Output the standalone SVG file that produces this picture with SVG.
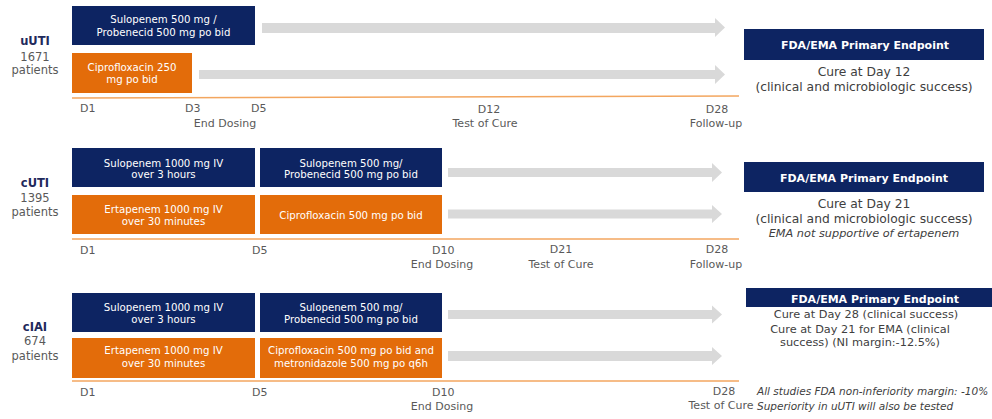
<svg xmlns="http://www.w3.org/2000/svg" width="992" height="419" viewBox="0 0 992 419">
<style>
text{font-family:"DejaVu Sans","Liberation Sans",sans-serif}
.navy{fill:#0d2462}
.orng{fill:#e36c0a}
.bt{fill:#ffffff;font-size:10.2px;text-anchor:middle}
.arr{fill:#d9d9d9}
.tl{stroke:#f3a65f;stroke-width:1.6;fill:none}
.lab{fill:#595959;font-size:11px}
.mid{text-anchor:middle}
.grp{fill:#1f2a5c;font-size:11.5px;font-weight:bold;text-anchor:middle}
.pat{fill:#595959;font-size:11.5px;text-anchor:middle}
.hdr{fill:#ffffff;font-size:11px;font-weight:bold;text-anchor:middle}
.rt{fill:#404040;font-size:12.3px;text-anchor:middle}
.rt2{fill:#404040;font-size:11.3px;text-anchor:middle}
.it{fill:#404040;font-size:11.3px;font-style:italic;text-anchor:middle}
.fn{fill:#404040;font-size:10.5px;font-style:italic}
</style>
<rect width="992" height="419" fill="#ffffff"/>

<g id="connectors">
  <polygon class="arr" points="262,23 715,23 715,18 725,27.5 715,37 715,33 262,33"/>
  <polygon class="arr" points="199,70 715,70 715,65 725,74.5 715,84 715,79 199,79"/>
  <line class="tl" x1="72" y1="98" x2="739" y2="96"/>
  <polygon class="arr" points="448,168 712,168 712,163 722,172.5 712,182 712,177 448,177"/>
  <polygon class="arr" points="448,209.5 712,209.5 712,205 722,214 712,223 712,218.5 448,218.5"/>
  <line class="tl" x1="72" y1="239" x2="739" y2="239"/>
  <polygon class="arr" points="448,310 712,310 712,305.5 722,314.5 712,323.5 712,319 448,319"/>
  <polygon class="arr" points="448,351 712,351 712,347 722,356 712,365 712,361 448,361"/>
  <line class="tl" x1="72" y1="381" x2="739" y2="381"/>
</g>

<!-- uUTI -->
<g id="uuti-label">
  <text class="grp" x="35" y="45">uUTI</text>
  <text class="pat" x="35" y="61">1671</text>
  <text class="pat" x="35" y="74">patients</text>
</g>
<g id="uuti-sulopenem">
  <rect class="navy" x="72" y="6" width="183" height="39"/>
  <text class="bt" x="163.5" y="23">Sulopenem 500 mg /</text>
  <text class="bt" x="163.5" y="35.5">Probenecid 500 mg po bid</text>
</g>
<g id="uuti-cipro">
  <rect class="orng" x="72" y="53" width="120" height="40"/>
  <text class="bt" x="132" y="70.5">Ciprofloxacin 250</text>
  <text class="bt" x="132" y="83">mg po bid</text>
</g>
<g id="uuti-timeline">
  <text class="lab" x="80" y="112">D1</text>
  <text class="lab" x="185" y="112">D3</text>
  <text class="lab" x="251" y="112">D5</text>
  <text class="lab mid" x="225" y="127">End Dosing</text>
  <text class="lab mid" x="489" y="113">D12</text>
  <text class="lab mid" x="485" y="127">Test of Cure</text>
  <text class="lab mid" x="717" y="113">D28</text>
  <text class="lab mid" x="716" y="127">Follow-up</text>
</g>
<g id="uuti-endpoint">
  <rect class="navy" x="744" y="29" width="240" height="31"/>
  <text class="hdr" x="865" y="49">FDA/EMA Primary Endpoint</text>
  <text class="rt" x="864" y="76">Cure at Day 12</text>
  <text class="rt" x="864" y="91">(clinical and microbiologic success)</text>
</g>

<!-- cUTI -->
<g id="cuti-label">
  <text class="grp" x="35" y="187">cUTI</text>
  <text class="pat" x="35" y="202">1395</text>
  <text class="pat" x="35" y="216">patients</text>
</g>
<g id="cuti-sulopenem-iv">
  <rect class="navy" x="72" y="148" width="183" height="39"/>
  <text class="bt" x="163.5" y="166.5">Sulopenem 1000 mg IV</text>
  <text class="bt" x="163.5" y="178">over 3 hours</text>
</g>
<g id="cuti-sulopenem-po">
  <rect class="navy" x="260" y="148" width="182" height="39"/>
  <text class="bt" x="351" y="166.5">Sulopenem 500 mg/</text>
  <text class="bt" x="351" y="178">Probenecid 500 mg po bid</text>
</g>
<g id="cuti-ertapenem">
  <rect class="orng" x="72" y="195" width="183" height="39"/>
  <text class="bt" x="163.5" y="212.5">Ertapenem 1000 mg IV</text>
  <text class="bt" x="163.5" y="224.5">over 30 minutes</text>
</g>
<g id="cuti-cipro">
  <rect class="orng" x="260" y="195" width="182" height="39"/>
  <text class="bt" x="351" y="218.5">Ciprofloxacin 500 mg po bid</text>
</g>
<g id="cuti-timeline">
  <text class="lab" x="80" y="254">D1</text>
  <text class="lab" x="252" y="254">D5</text>
  <text class="lab" x="432" y="254">D10</text>
  <text class="lab mid" x="442" y="268">End Dosing</text>
  <text class="lab mid" x="561" y="253">D21</text>
  <text class="lab mid" x="561" y="268">Test of Cure</text>
  <text class="lab mid" x="717" y="253">D28</text>
  <text class="lab mid" x="716" y="268">Follow-up</text>
</g>
<g id="cuti-endpoint">
  <rect class="navy" x="744" y="162" width="240" height="30"/>
  <text class="hdr" x="864" y="182">FDA/EMA Primary Endpoint</text>
  <text class="rt" x="864" y="208">Cure at Day 21</text>
  <text class="rt" x="864" y="223">(clinical and microbiologic success)</text>
  <text class="it" x="864" y="237">EMA not supportive of ertapenem</text>
</g>

<!-- cIAI -->
<g id="ciai-label">
  <text class="grp" x="35" y="331">cIAI</text>
  <text class="pat" x="35" y="345">674</text>
  <text class="pat" x="35" y="360">patients</text>
</g>
<g id="ciai-sulopenem-iv">
  <rect class="navy" x="72" y="293" width="183" height="39"/>
  <text class="bt" x="163.5" y="310.5">Sulopenem 1000 mg IV</text>
  <text class="bt" x="163.5" y="322.5">over 3 hours</text>
</g>
<g id="ciai-sulopenem-po">
  <rect class="navy" x="260" y="293" width="182" height="39"/>
  <text class="bt" x="351" y="310.5">Sulopenem 500 mg/</text>
  <text class="bt" x="351" y="322.5">Probenecid 500 mg po bid</text>
</g>
<g id="ciai-ertapenem">
  <rect class="orng" x="72" y="338" width="183" height="40"/>
  <text class="bt" x="163.5" y="354">Ertapenem 1000 mg IV</text>
  <text class="bt" x="163.5" y="367">over 30 minutes</text>
</g>
<g id="ciai-cipro-metro">
  <rect class="orng" x="260" y="338" width="182" height="40"/>
  <text class="bt" x="351" y="354">Ciprofloxacin 500 mg po bid and</text>
  <text class="bt" x="351" y="367">metronidazole 500 mg po q6h</text>
</g>
<g id="ciai-timeline">
  <text class="lab" x="80" y="396">D1</text>
  <text class="lab" x="252" y="396">D5</text>
  <text class="lab" x="432" y="396">D10</text>
  <text class="lab mid" x="442" y="410">End Dosing</text>
  <text class="lab mid" x="724" y="395">D28</text>
  <text class="lab mid" x="721" y="409">Test of Cure</text>
</g>
<g id="ciai-endpoint">
  <rect class="navy" x="746" y="288" width="246" height="19"/>
  <text class="hdr" x="875" y="302.5">FDA/EMA Primary Endpoint</text>
  <text class="rt2" x="866" y="318">Cure at Day 28 (clinical success)</text>
  <text class="rt2" x="860" y="333">Cure at Day 21 for EMA (clinical</text>
  <text class="rt2" x="860" y="346">success) (NI margin:-12.5%)</text>
</g>
<g id="footnote">
  <text class="fn" x="757" y="395">All studies FDA non-inferiority margin: -10%</text>
  <text class="fn" x="757" y="410">Superiority in uUTI will also be tested</text>
</g>
</svg>
